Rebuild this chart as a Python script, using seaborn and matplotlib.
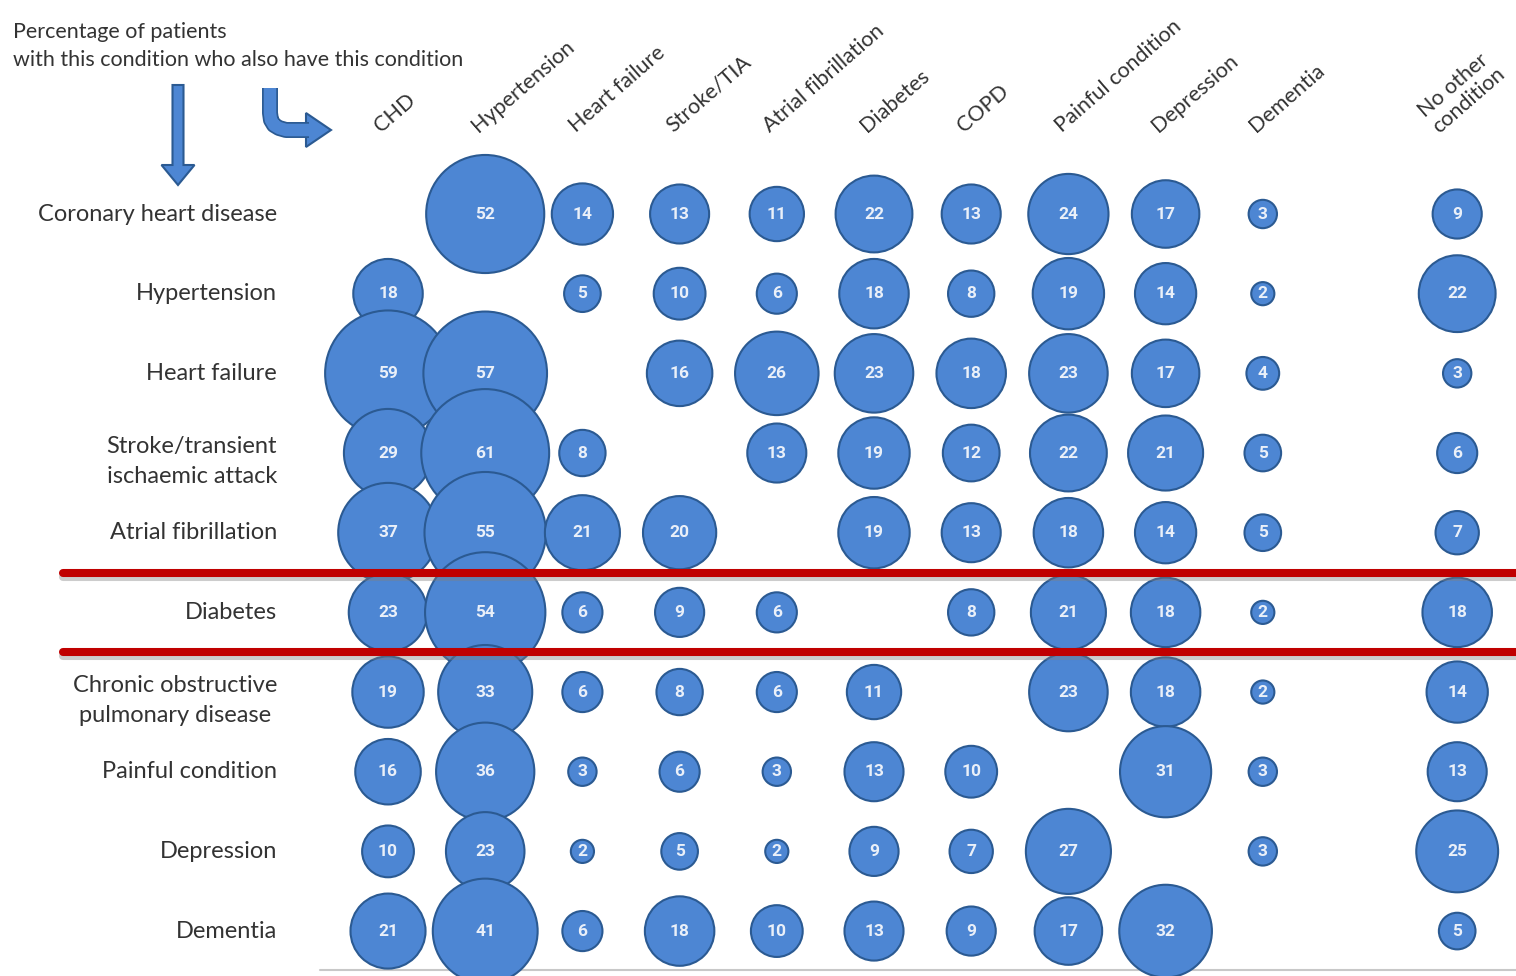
import pandas as pd
import seaborn as sns
import matplotlib.pyplot as plt
import matplotlib.patheffects as pe
from matplotlib.patches import FancyArrow, Polygon
from matplotlib.lines import Line2D

# conditions down the side (row) and across the top (column)
row_names = ["Coronary heart disease", "Hypertension", "Heart failure",
             "Stroke/transient\nischaemic attack", "Atrial fibrillation", "Diabetes",
             "Chronic obstructive\npulmonary disease", "Painful condition",
             "Depression", "Dementia"]
col_names = ["CHD", "Hypertension", "Heart failure", "Stroke/TIA", "Atrial fibrillation",
             "Diabetes", "COPD", "Painful condition", "Depression", "Dementia",
             "No other\ncondition"]

# % of patients with the row condition who also have the column condition
chd          = [None, 52, 14, 13, 11, 22, 13, 24, 17, 3, 9]
hypertension = [18, None, 5, 10, 6, 18, 8, 19, 14, 2, 22]
heart_fail   = [59, 57, None, 16, 26, 23, 18, 23, 17, 4, 3]
stroke       = [29, 61, 8, None, 13, 19, 12, 22, 21, 5, 6]
atrial_fib   = [37, 55, 21, 20, None, 19, 13, 18, 14, 5, 7]
diabetes     = [23, 54, 6, 9, 6, None, 8, 21, 18, 2, 18]
copd         = [19, 33, 6, 8, 6, 11, None, 23, 18, 2, 14]
painful      = [16, 36, 3, 6, 3, 13, 10, None, 31, 3, 13]
depression   = [10, 23, 2, 5, 2, 9, 7, 27, None, 3, 25]
dementia     = [21, 41, 6, 18, 10, 13, 9, 17, 32, None, 5]
matrix = [chd, hypertension, heart_fail, stroke, atrial_fib,
          diabetes, copd, painful, depression, dementia]

FILL = "#4d86d3"
EDGE = "#2b5a92"
TXT = "#333333"

# last column sits one slot further right
col_x = list(range(len(col_names) - 1)) + [len(col_names)]

recs = []
for i, row in enumerate(matrix):
    for j, v in enumerate(row):
        if v is not None:
            recs.append((col_x[j], i, v))
df = pd.DataFrame(recs, columns=("x", "y", "value"))

sns.set_style("white")
plt.rcParams["font.family"] = ["Lato", "DejaVu Sans"]

fig = plt.figure(figsize=(15.16, 9.76), dpi=100)
ax = fig.add_axes([0, 0, 1, 1])
ax.set_xlim(-3.992, 11.605)
ax.set_ylim(9.564, -2.686)
ax.axis("off")

# area proportional to value
k = 139
sns.scatterplot(data=df, x="x", y="y", size="value", sizes=(k * 2, k * 61),
                size_norm=(2, 61), color=FILL, edgecolor=EDGE, linewidth=1.5,
                alpha=1, legend=False, ax=ax, zorder=2)

for _, r in df.iterrows():
    ax.text(r.x, r.y, str(int(r.value)), ha="center", va="center", color="#eaf0f9",
            fontsize=12.5, fontweight="bold", family=["Roboto", "DejaVu Sans"],
            zorder=3)

for i, name in enumerate(row_names):
    dy = 0.11 if "\n" in name else 0
    ax.text(-1.142, i + dy, name, ha="right", va="center", multialignment="center",
            fontsize=17, color=TXT, linespacing=1.55)

for j, name in enumerate(col_names):
    off = 0.2 if "\n" in name else 0.07
    ax.text(col_x[j] - off, -1.02, name, rotation=41, rotation_mode="anchor",
            ha="left", va="baseline", fontsize=15.5, color=TXT, linespacing=1.1)

# red separators around the Diabetes row
for yy in (4.5, 5.5):
    ax.axhline(yy, xmin=63 / 1516, xmax=1, color="#c00000", lw=5.8, zorder=4,
               path_effects=[pe.SimpleLineShadow(offset=(0, -3), shadow_color="gray", alpha=0.4),
                             pe.Normal()])
ax.axhline(9.49, xmin=320 / 1516, xmax=1, color="#c8c8c8", lw=1.5, zorder=1)

# header text and arrows in pixel coordinates
deco = fig.add_axes([0, 0, 1, 1], zorder=5)
deco.set_xlim(0, 1516)
deco.set_ylim(976, 0)
deco.axis("off")
deco.patch.set_alpha(0)
deco.text(13, 32, "Percentage of patients", fontsize=15.5, color=TXT, va="center")
deco.text(13, 60, "with this condition who also have this condition", fontsize=15.5,
          color=TXT, va="center")

deco.add_patch(FancyArrow(178, 85, 0, 100, width=11, head_width=33, head_length=20,
                          length_includes_head=True, fc=FILL, ec=EDGE, lw=1.5))

bend = Line2D([270, 270, 271, 274, 279, 286, 309], [88, 113, 120, 125, 128, 130, 130],
              color=FILL, lw=9, solid_capstyle="butt", solid_joinstyle="round",
              path_effects=[pe.Stroke(linewidth=11.5, foreground=EDGE), pe.Normal()])
deco.add_line(bend)
deco.add_patch(Polygon([(306, 113), (331, 130), (306, 147)], closed=True,
                       fc=FILL, ec=EDGE, lw=1.5))

fig.savefig("out.png", dpi=100)
